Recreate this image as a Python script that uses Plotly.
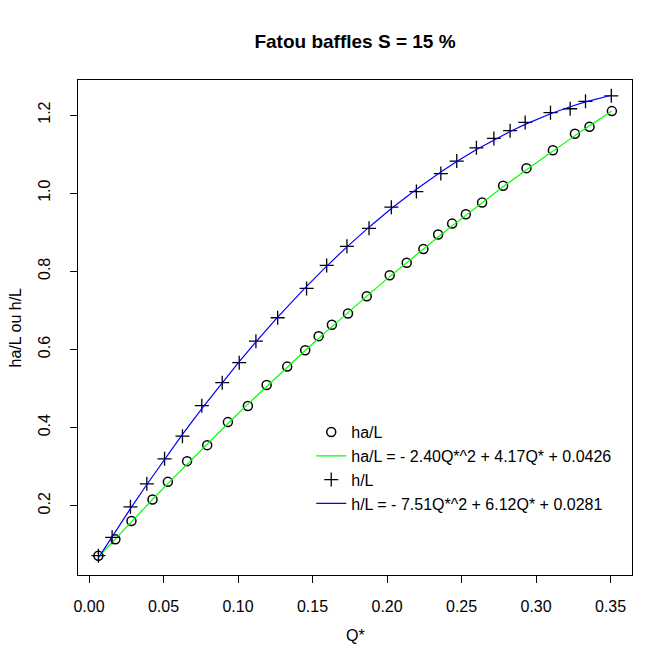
import numpy as np
import plotly.graph_objects as go


# -------------------------
# DATA
# -------------------------
q_ha = [0.0063, 0.0177, 0.0285, 0.0426, 0.0529, 0.0658, 0.0793, 0.0932, 0.1066, 0.1192,
        0.1330, 0.1451, 0.1541, 0.1630, 0.1738, 0.1864, 0.2018, 0.2132, 0.2244, 0.2343,
        0.2437, 0.2529, 0.2638, 0.2779, 0.2936, 0.3113, 0.3261, 0.3359, 0.3509]
ha_L = [0.072, 0.114, 0.161, 0.216, 0.261, 0.314, 0.355, 0.414, 0.455, 0.509,
        0.556, 0.598, 0.634, 0.663, 0.692, 0.736, 0.790, 0.822, 0.857, 0.894,
        0.922, 0.946, 0.976, 1.019, 1.064, 1.110, 1.152, 1.170, 1.210]

q_h = [0.0063, 0.0155, 0.0278, 0.0388, 0.0507, 0.0627, 0.0757, 0.0894, 0.1008, 0.1120,
       0.1266, 0.1460, 0.1595, 0.1731, 0.1879, 0.2029, 0.2197, 0.2361, 0.2468, 0.2600,
       0.2717, 0.2826, 0.2927, 0.3097, 0.3229, 0.3332, 0.3505]
h_L = [0.072, 0.119, 0.197, 0.256, 0.320, 0.378, 0.456, 0.515, 0.566, 0.621,
       0.681, 0.756, 0.815, 0.864, 0.910, 0.964, 1.004, 1.050, 1.082, 1.116,
       1.140, 1.160, 1.181, 1.206, 1.216, 1.235, 1.249]

# quadratic fit coefficients as printed in the legend (a*Q^2 + b*Q + c)
ha_coef = [-2.40, 4.17, 0.0426]
h_coef = [-7.51, 6.12, 0.0281]

x_ticks = [0.00, 0.05, 0.10, 0.15, 0.20, 0.25, 0.30, 0.35]
y_ticks = [0.2, 0.4, 0.6, 0.8, 1.0, 1.2]

FONT = "Liberation Sans, Arial, Helvetica, sans-serif"

# fitted curves evaluated at the sorted observed Q*
q_ha_s = np.sort(q_ha)
q_h_s = np.sort(q_h)
ha_fit = np.polyval(ha_coef, q_ha_s)
h_fit = np.polyval(h_coef, q_h_s)

fig = go.Figure()

fig.add_trace(go.Scatter(
    x=q_ha, y=ha_L, mode="markers", name="ha/L",
    marker=dict(symbol="circle-open", size=9, color="black",
                line=dict(width=1.5, color="black"))
))
fig.add_trace(go.Scatter(
    x=q_ha_s, y=ha_fit, mode="lines",
    name="ha/L = - 2.40Q*^2 + 4.17Q* + 0.0426",
    line=dict(color="#00FF00", width=1.2)
))
fig.add_trace(go.Scatter(
    x=q_h, y=h_L, mode="markers", name="h/L",
    marker=dict(symbol="cross-thin-open", size=10, color="black",
                line=dict(width=1.3, color="black"))
))
fig.add_trace(go.Scatter(
    x=q_h_s, y=h_fit, mode="lines",
    name="h/L = - 7.51Q*^2 + 6.12Q* + 0.0281",
    line=dict(color="#0000FF", width=1.2)
))

axis_common = dict(
    showgrid=False, zeroline=False, automargin=False,
    showline=True, mirror=True, linecolor="black", linewidth=1,
    ticks="outside", ticklen=7, tickcolor="black", tickwidth=1,
    tickfont=dict(family=FONT, size=16, color="black"),
)

fig.update_xaxes(
    range=[-0.0074, 0.3644],
    tickvals=x_ticks, ticktext=[f"{v:.2f}" for v in x_ticks],
    ticklabelstandoff=10,
    **axis_common
)
fig.update_yaxes(
    range=[0.0226, 1.2896],
    tickvals=y_ticks, ticktext=[f"{v:.1f}" for v in y_ticks],
    tickangle=-90, ticklabelstandoff=14,
    **axis_common
)

# axis titles placed like R's mtext lines
fig.add_annotation(text="Q*", xref="paper", yref="paper",
                   x=0.5, y=-(635 - 575) / 495, xanchor="center", yanchor="middle",
                   showarrow=False, font=dict(family=FONT, size=16, color="black"))
fig.add_annotation(text="ha/L ou h/L", xref="paper", yref="paper",
                   x=-(78 - 15) / 554, y=0.5, xanchor="center", yanchor="middle",
                   textangle=-90, showarrow=False,
                   font=dict(family=FONT, size=16, color="black"))

fig.update_layout(
    width=672, height=672,
    margin=dict(l=78, r=40, t=80, b=97),
    paper_bgcolor="white", plot_bgcolor="white",
    title=dict(
        text="<b>Fatou baffles S = 15 %</b>",
        x=(78 + 632) / 2 / 672, xanchor="center",
        y=1 - 41 / 672, yanchor="middle",
        font=dict(family=FONT, size=19, color="black")
    ),
    legend=dict(
        x=0.421, y=0.323, xanchor="left", yanchor="top",
        bgcolor="rgba(0,0,0,0)", borderwidth=0,
        font=dict(family=FONT, size=16, color="black"),
        tracegroupgap=0, itemwidth=30
    ),
    showlegend=True,
)

# drop the default page margin so the 672x672 figure sits at the window origin
fig.write_html("out.html", config={"displayModeBar": False},
               post_script="document.body.style.margin='0';")
